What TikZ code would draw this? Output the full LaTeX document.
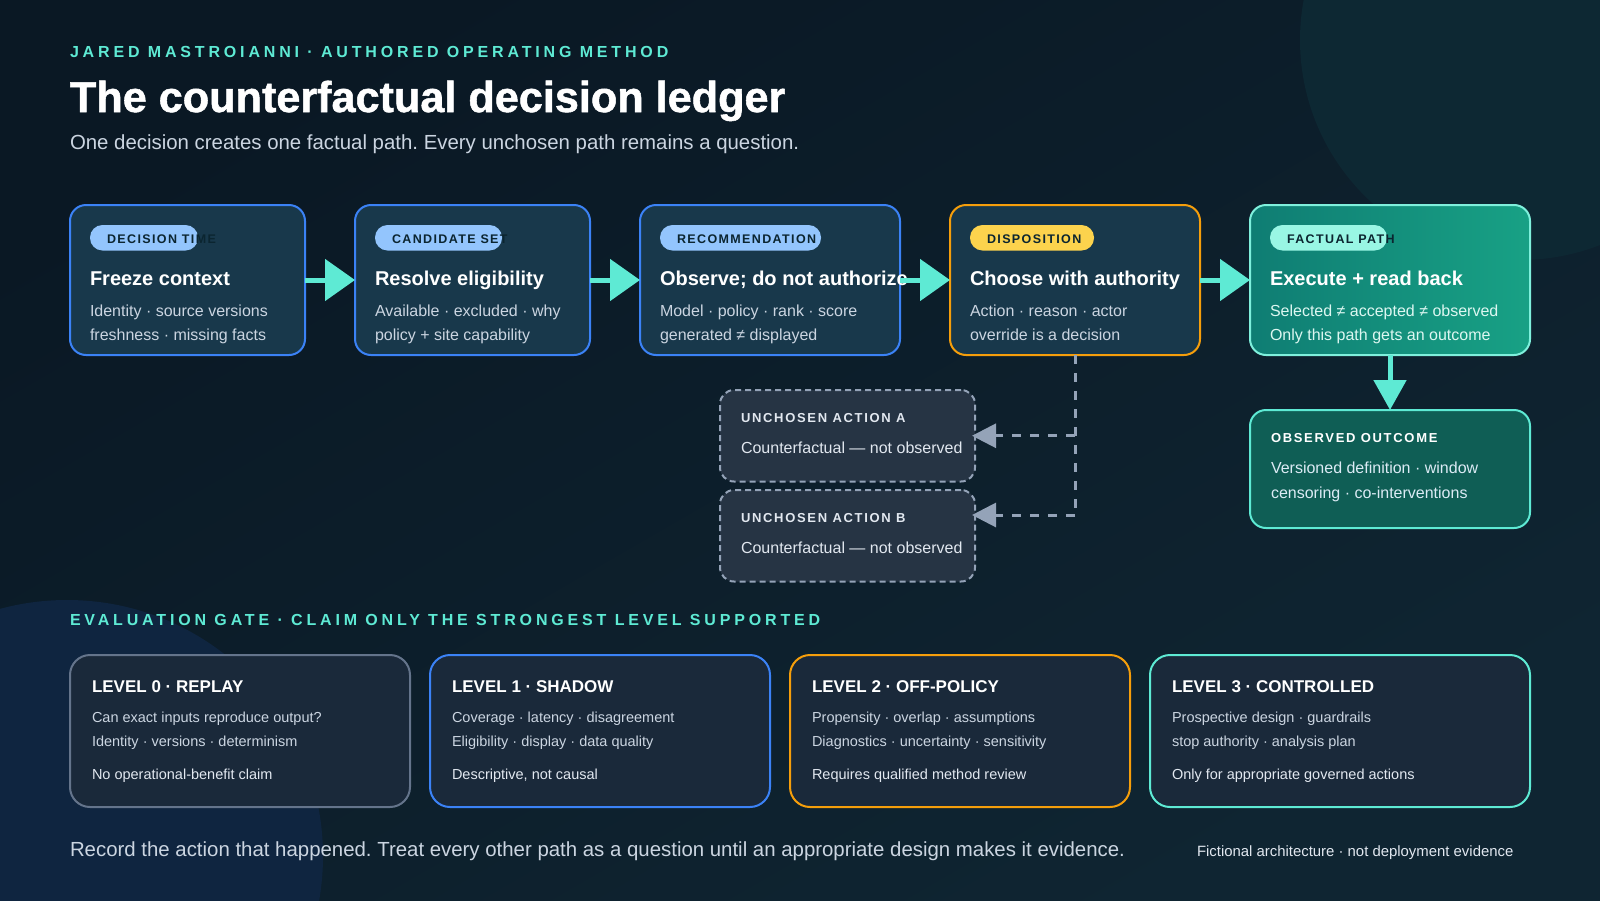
\documentclass[tikz,border=0pt]{standalone}
\usepackage{fontspec}
\setmainfont{Liberation Sans}
\newfontfamily\trackA[LetterSpace=24]{Liberation Sans}
\newfontfamily\trackB[LetterSpace=11]{Liberation Sans}
\newfontfamily\trackC[LetterSpace=13]{Liberation Sans}
\newfontfamily\heavyfont[FakeBold=1.2]{Liberation Sans Bold}
\usetikzlibrary{arrows.meta,calc}
\newcommand{\fsz}[1]{\fontsize{#1}{#1}\selectfont}
\frenchspacing

\definecolor{bgA}{HTML}{0A1824}
\definecolor{bgB}{HTML}{0F2532}
\definecolor{circTR}{HTML}{0D2833}
\definecolor{circBL}{HTML}{0F2540}
\definecolor{accent}{HTML}{5EEAD4}
\definecolor{boxfill}{HTML}{18384B}
\definecolor{blueB}{HTML}{3B82F6}
\definecolor{orangeB}{HTML}{F59E0B}
\definecolor{pillBlue}{HTML}{93C5FD}
\definecolor{pillYel}{HTML}{FCD34D}
\definecolor{pillTeal}{HTML}{99F6E4}
\definecolor{pillTxt}{HTML}{0B2530}
\definecolor{body}{HTML}{CBD5E1}
\definecolor{bright}{HTML}{E2E8F0}
\definecolor{slate}{HTML}{94A3B8}
\definecolor{ghostfill}{HTML}{263444}
\definecolor{lvlfill}{HTML}{1A293A}
\definecolor{grayB}{HTML}{64748B}
\definecolor{fiveL}{HTML}{0F7D73}
\definecolor{fiveR}{HTML}{18A185}
\definecolor{fiveBorder}{HTML}{7FF0DC}
\definecolor{fiveBody}{HTML}{DDF7F1}
\definecolor{outfill}{HTML}{0F5E55}
\definecolor{outBody}{HTML}{DCEBF5}

\tikzset{
  every node/.style={inner sep=0pt, outer sep=0pt},
  stepbox/.style={draw=#1, line width=2pt, rounded corners=16pt, fill=boxfill,
    anchor=north west, minimum height=150pt},
  pill/.style={fill=#1, rounded corners=12.5pt, anchor=north west, minimum height=25.5pt},
  pilltxt/.style={anchor=base west, text=pillTxt, font=\trackB\bfseries\fsz{12.5}},
  steptitle/.style={anchor=base west, text=white, font=\bfseries\fsz{20}},
  stepbody/.style={anchor=base west, text=body, font=\fsz{16}},
  ghost/.style={draw=slate, line width=2pt, dash pattern=on 6pt off 4pt, rounded corners=14pt,
    fill=ghostfill, anchor=north west, minimum width=255pt, minimum height=91.5pt},
  ghostlbl/.style={anchor=base west, text=bright, font=\trackC\bfseries\fsz{13}},
  lvl/.style={draw=#1, line width=2pt, rounded corners=20pt, fill=lvlfill,
    anchor=north west, minimum height=152pt},
  lvltitle/.style={anchor=base west, text=white, font=\bfseries\fsz{17}},
  lvlbody/.style={anchor=base west, text=body, font=\fsz{14.5}},
  lvlnote/.style={anchor=base west, text=bright, font=\fsz{14.5}},
  flow/.style={draw=accent, line width=5pt, -{Triangle[length=30pt,width=41pt]}},
  flowdown/.style={draw=accent, line width=5pt, -{Triangle[length=30pt,width=32pt]}},
  dashconn/.style={draw=slate, line width=3pt, dash pattern=on 9pt off 9pt},
  dtip/.style={-{Triangle[length=24pt,width=24pt]}, shorten >=-3pt},
}

\begin{document}
\begin{tikzpicture}[x=1pt,y=-1pt]
\useasboundingbox (0,0) rectangle (1600,900);
% background
\shade[top color=bgA, bottom color=bgB, shading angle=30] (0,0) rectangle (1600,900);
\begin{scope}
\clip (0,0) rectangle (1600,900);
\fill[circTR] (1520,40) circle[radius=220pt];
\fill[circBL] (67,856) circle[radius=256pt];
\end{scope}

% header
\node[anchor=base west, text=accent, font=\trackA\bfseries\fsz{16}] (hdr) at (70,57)
  {JARED MASTROIANNI · AUTHORED OPERATING METHOD};
\node[anchor=base west, text=white, font=\heavyfont\fsz{43.2}] (ttl) at (70,112)
  {The counterfactual decision ledger};
\node[anchor=base west, text=body, font=\fsz{20.4}] (sub) at (70,149)
  {One decision creates one factual path. Every unchosen path remains a question.};

% step boxes
\node[stepbox=blueB, minimum width=235pt] (b1) at (70,205) {};
\node[stepbox=blueB, minimum width=235pt] (b2) at (355,205) {};
\node[stepbox=blueB, minimum width=260pt] (b3) at (640,205) {};
\node[stepbox=orangeB, minimum width=250pt] (b4) at (950,205) {};
\node[stepbox=fiveBorder, left color=fiveL, right color=fiveR, minimum width=280pt] (b5) at (1250,205) {};

% pills
\node[pill=pillBlue, minimum width=108pt] (p1) at (90,225) {};
\node[pilltxt] (p1t) at (107,243) {DECISION TIME};
\node[pill=pillBlue, minimum width=127pt] (p2) at (375,225) {};
\node[pilltxt] (p2t) at (392,243) {CANDIDATE SET};
\node[pill=pillBlue, minimum width=161pt] (p3) at (660,225) {};
\node[pilltxt] (p3t) at (677,243) {RECOMMENDATION};
\node[pill=pillYel, minimum width=124pt] (p4) at (970,225) {};
\node[pilltxt] (p4t) at (987,243) {DISPOSITION};
\node[pill=pillTeal, minimum width=117pt] (p5) at (1270,225) {};
\node[pilltxt] (p5t) at (1287,243) {FACTUAL PATH};

% step titles and bodies
\node[steptitle] (t1) at (90,285) {Freeze context};
\node[stepbody] (d1a) at (90,316.5) {Identity · source versions};
\node[stepbody] (d1b) at (90,340) {freshness · missing facts};

\node[steptitle] (t2) at (375,285) {Resolve eligibility};
\node[stepbody] (d2a) at (375,316.5) {Available · excluded · why};
\node[stepbody] (d2b) at (375,340) {policy + site capability};

\node[steptitle] (t3) at (660,285) {Observe; do not authorize};
\node[stepbody] (d3a) at (660,316.5) {Model · policy · rank · score};
\node[stepbody] (d3b) at (660,340) {generated ≠ displayed};

\node[steptitle] (t4) at (970,285) {Choose with authority};
\node[stepbody] (d4a) at (970,316.5) {Action · reason · actor};
\node[stepbody] (d4b) at (970,340) {override is a decision};

\node[steptitle] (t5) at (1270,285) {Execute + read back};
\node[stepbody, text=fiveBody] (d5a) at (1270,316.5) {Selected ≠ accepted ≠ observed};
\node[stepbody, text=fiveBody] (d5b) at (1270,340) {Only this path gets an outcome};

% flow arrows
\draw[flow] (b1.east) -- (b2.west);
\draw[flow] (b2.east) -- (b3.west);
\draw[flow] (b3.east) -- (b4.west);
\draw[flow] (b4.east) -- (b5.west);

% observed outcome
\node[draw=accent, line width=2pt, rounded corners=16pt, fill=outfill, anchor=north west,
  minimum width=280pt, minimum height=118pt] (out) at (1250,410) {};
\node[ghostlbl, text=white] (outl) at (1271,442) {OBSERVED OUTCOME};
\node[stepbody, text=outBody] (outa) at (1271,473.3) {Versioned definition · window};
\node[stepbody, text=outBody] (outb) at (1271,498) {censoring · co-interventions};
\draw[flowdown] (b5.south) -- (out.north);

% unchosen actions
\node[ghost] (uA) at (720,390) {};
\node[ghostlbl] (uAl) at (741,422.7) {UNCHOSEN ACTION A};
\node[stepbody, text=bright] (uAt) at (741,453.3) {Counterfactual — not observed};
\node[ghost] (uB) at (720,490) {};
\node[ghostlbl] (uBl) at (741,522.7) {UNCHOSEN ACTION B};
\node[stepbody, text=bright] (uBt) at (741,553.3) {Counterfactual — not observed};

\coordinate (jB) at (1075,515);
\draw[dashconn] (b4.south) -- (jB);
\draw[dashconn, dtip] (jB) -- (uB.east |- jB);
\draw[dashconn, dtip] (b4.south |- uA.east) -- (uA.east);

% evaluation gate
\node[anchor=base west, text=accent, font=\trackA\bfseries\fsz{16}] (evl) at (70,625)
  {EVALUATION GATE · CLAIM ONLY THE STRONGEST LEVEL SUPPORTED};

\node[lvl=grayB, minimum width=340pt] (L0) at (70,655) {};
\node[lvltitle] (L0t) at (92,692) {LEVEL 0 · REPLAY};
\node[lvlbody] (L0a) at (92,722.7) {Can exact inputs reproduce output?};
\node[lvlbody] (L0b) at (92,746.7) {Identity · versions · determinism};
\node[lvlnote] (L0c) at (92,779) {No operational-benefit claim};

\node[lvl=blueB, minimum width=340pt] (L1) at (430,655) {};
\node[lvltitle] (L1t) at (452,692) {LEVEL 1 · SHADOW};
\node[lvlbody] (L1a) at (452,722.7) {Coverage · latency · disagreement};
\node[lvlbody] (L1b) at (452,746.7) {Eligibility · display · data quality};
\node[lvlnote] (L1c) at (452,779) {Descriptive, not causal};

\node[lvl=orangeB, minimum width=340pt] (L2) at (790,655) {};
\node[lvltitle] (L2t) at (812,692) {LEVEL 2 · OFF-POLICY};
\node[lvlbody] (L2a) at (812,722.7) {Propensity · overlap · assumptions};
\node[lvlbody] (L2b) at (812,746.7) {Diagnostics · uncertainty · sensitivity};
\node[lvlnote] (L2c) at (812,779) {Requires qualified method review};

\node[lvl=accent, minimum width=380pt] (L3) at (1150,655) {};
\node[lvltitle] (L3t) at (1172,692) {LEVEL 3 · CONTROLLED};
\node[lvlbody] (L3a) at (1172,722.7) {Prospective design · guardrails};
\node[lvlbody] (L3b) at (1172,746.7) {stop authority · analysis plan};
\node[lvlnote] (L3c) at (1172,779) {Only for appropriate governed actions};

% footer
\node[anchor=base west, text=body, font=\fsz{20.4}] (ftr) at (70,856)
  {Record the action that happened. Treat every other path as a question until an appropriate design makes it evidence.};
\node[anchor=base west, text=bright, font=\fsz{14.9}] (fic) at (1197,856.5)
  {Fictional architecture · not deployment evidence};
\end{tikzpicture}
\end{document}
